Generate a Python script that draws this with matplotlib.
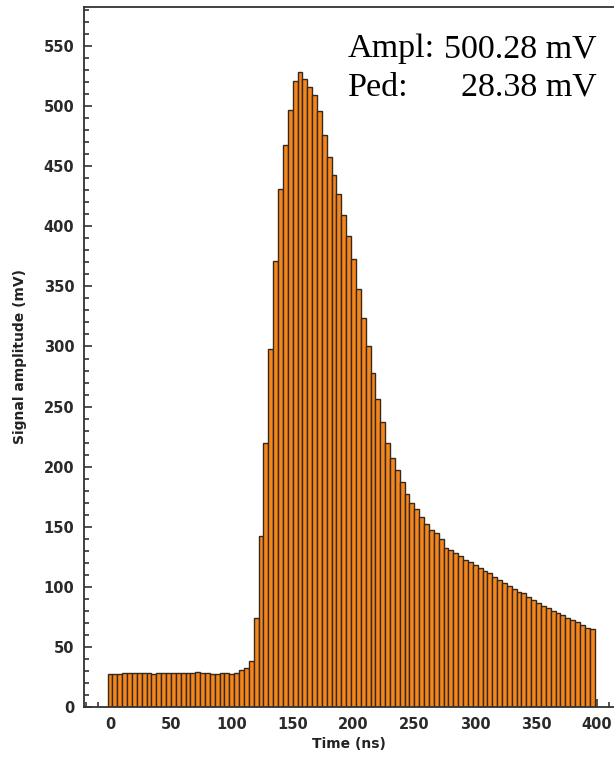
import numpy as np
import matplotlib
matplotlib.use("Agg")
import matplotlib.pyplot as plt
from matplotlib.ticker import MultipleLocator

# ---- data ----
bin_width_ns = 4
time_ns = np.arange(0, 400, bin_width_ns)  # bin centres (ns)

amplitude_mv = [
    27.5, 27.6, 27.8, 28.0, 28.2, 28.3, 28.2, 28.1, 28.0, 27.7,
    27.9, 28.1, 28.5, 28.4, 28.0, 28.2, 28.4, 28.5, 28.8, 28.3,
    27.9, 27.6, 27.5, 27.9, 28.0, 27.8, 28.2, 30.5, 32.5, 38.0,
    74.0, 142.0, 220.0, 298.0, 371.0, 431.0, 468.0, 497.0, 521.0, 528.7,
    522.5, 516.0, 509.0, 496.0, 476.0, 458.0, 442.5, 427.0, 409.0, 392.0,
    372.5, 348.0, 324.0, 300.0, 278.0, 256.0, 237.0, 220.0, 207.5, 197.0,
    187.5, 177.0, 170.0, 165.0, 158.0, 152.0, 147.0, 145.0, 139.5, 132.5,
    130.5, 128.5, 125.5, 122.0, 120.5, 118.0, 115.4, 113.4, 111.5, 108.5,
    105.5, 103.0, 100.7, 98.5, 96.0, 94.5, 91.8, 89.0, 86.8, 84.0,
    82.0, 80.0, 78.0, 76.5, 74.3, 72.4, 71.0, 68.0, 66.0, 64.8,
]

ampl_text = "500.28 mV"
ped_text = "28.38 mV"

x_ticks = [0, 50, 100, 150, 200, 250, 300, 350, 400]
y_ticks = [0, 50, 100, 150, 200, 250, 300, 350, 400, 450, 500, 550]

# ---- figure ----
W, H = 614, 759
fig = plt.figure(figsize=(W / 100, H / 100), dpi=100)
ax = fig.add_axes([84 / W, 1 - 707 / H, (614 - 84) / W, (707 - 7) / H])

ax.bar(time_ns, amplitude_mv, width=bin_width_ns, color="#f5861c",
       edgecolor="#35281d", linewidth=1.0, zorder=2)

ax.set_xlim(-21.4, 414)
ax.set_ylim(0, 582.5)

ax.set_xticks(x_ticks)
ax.set_yticks(y_ticks)
ax.xaxis.set_minor_locator(MultipleLocator(10))
ax.yaxis.set_minor_locator(MultipleLocator(10))
ax.tick_params(which="both", direction="in", color="#333333", width=1.2)
ax.tick_params(which="major", length=6, labelsize=10.5, labelcolor="#2a2a2a", pad=7)
ax.tick_params(which="minor", length=3.5)
for lab in ax.get_xticklabels() + ax.get_yticklabels():
    lab.set_fontweight("bold")

for s in ["left", "bottom", "top"]:
    ax.spines[s].set_color("#333333")
    ax.spines[s].set_linewidth(1.3)
ax.spines["right"].set_visible(False)

ax.set_xlabel("Time (ns)", fontsize=10, fontweight="bold", color="#222222", labelpad=4)
ax.set_ylabel("Signal amplitude (mV)", fontsize=10, fontweight="bold", color="#222222", labelpad=12)

serif = ["Liberation Serif", "DejaVu Serif"]
fs = 24.5
fig.text(348 / W, 1 - 57 / H, "Ampl:", fontsize=fs, family=serif, ha="left", va="baseline")
fig.text(597 / W, 1 - 57 / H, ampl_text, fontsize=fs, family=serif, ha="right", va="baseline")
fig.text(348 / W, 1 - 96 / H, "Ped:", fontsize=fs, family=serif, ha="left", va="baseline")
fig.text(597 / W, 1 - 96 / H, ped_text, fontsize=fs, family=serif, ha="right", va="baseline")

fig.savefig("out.png", dpi=100, facecolor="white")
